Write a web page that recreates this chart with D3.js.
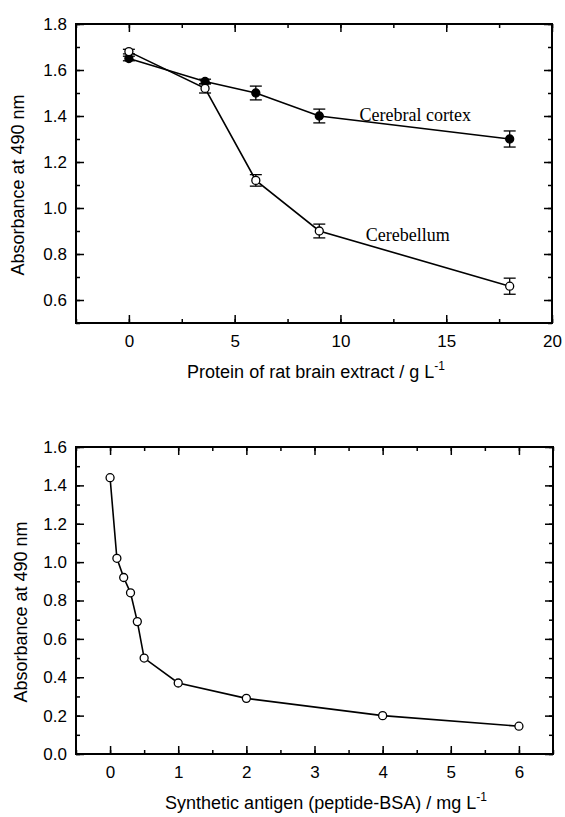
<!doctype html>
<html lang="en">
<head>
  <meta charset="utf-8">
  <script src="https://d3js.org/d3.v7.min.js"></script>
  <title>Absorbance at 490 nm</title>
  <style type="text/css">
    html, body { margin: 0; padding: 0; background: #fff; }
    svg { display: block; }
    .tick text { font-family: "Liberation Sans", Arial, sans-serif; font-size: 17px; fill: #000; }
    .tick line { stroke: #000; stroke-width: 1.5; }
    .title { font-family: "Liberation Sans", Arial, sans-serif; font-size: 18px; fill: #000; }
    .note { font-family: "Liberation Serif", "Times New Roman", serif; font-size: 18px; fill: #000; }
  </style>
</head>
<body>
<script>
  // top panel: rat brain extract
  var brainX = [0, 3.6, 6, 9, 18];
  var cortexY = [1.65, 1.55, 1.50, 1.40, 1.30];
  var cortexErr = [0.01, 0.01, 0.03, 0.03, 0.035];
  var cerebellumY = [1.68, 1.52, 1.12, 0.90, 0.66];
  var cerebellumErr = [0.01, 0.02, 0.025, 0.03, 0.035];
  var topXTicks = [0, 5, 10, 15, 20];
  var topYTicks = [0.6, 0.8, 1.0, 1.2, 1.4, 1.6, 1.8];

  // bottom panel: synthetic antigen
  var antigenX = [0, 0.1, 0.2, 0.3, 0.4, 0.5, 1, 2, 4, 6];
  var antigenY = [1.44, 1.02, 0.92, 0.84, 0.69, 0.50, 0.37, 0.29, 0.20, 0.145];
  var bottomXTicks = [0, 1, 2, 3, 4, 5, 6];
  var bottomYTicks = [0.0, 0.2, 0.4, 0.6, 0.8, 1.0, 1.2, 1.4, 1.6];

  var svg = d3.select("body").append("svg")
    .attr("width", 565)
    .attr("height", 817);

  // draws box, mirrored inward ticks, labels; returns the scales
  function panel(opt) {
    var x = d3.scaleLinear().domain(opt.xDomain).range([opt.left, opt.right]);
    var y = d3.scaleLinear().domain(opt.yDomain).range([opt.bottom, opt.top]);
    var g = svg.append("g");

    function minor(domain, step) {
      var out = [];
      for (var v = Math.ceil(domain[0] / step) * step; v <= domain[1] + 1e-9; v += step) out.push(+v.toFixed(4));
      return out;
    }
    var xMinor = minor(opt.xDomain, opt.xMinorStep);
    var yMinor = minor(opt.yDomain, opt.yMinorStep);
    var noDomain = function(sel) { sel.select(".domain").remove(); };

    // minor ticks on all four sides
    g.append("g").attr("transform", "translate(0," + opt.bottom + ")")
      .call(d3.axisBottom(x).tickValues(xMinor).tickSize(-4).tickFormat("")).call(noDomain);
    g.append("g").attr("transform", "translate(0," + opt.top + ")")
      .call(d3.axisTop(x).tickValues(xMinor).tickSize(-4).tickFormat("")).call(noDomain);
    g.append("g").attr("transform", "translate(" + opt.left + ",0)")
      .call(d3.axisLeft(y).tickValues(yMinor).tickSize(-4).tickFormat("")).call(noDomain);
    g.append("g").attr("transform", "translate(" + opt.right + ",0)")
      .call(d3.axisRight(y).tickValues(yMinor).tickSize(-4).tickFormat("")).call(noDomain);

    // major ticks
    g.append("g").attr("transform", "translate(0," + opt.bottom + ")")
      .call(d3.axisBottom(x).tickValues(opt.xTicks).tickSize(-8).tickPadding(12).tickFormat(d3.format("d")))
      .call(noDomain);
    g.append("g").attr("transform", "translate(0," + opt.top + ")")
      .call(d3.axisTop(x).tickValues(opt.xTicks).tickSize(-8).tickFormat("")).call(noDomain);
    g.append("g").attr("transform", "translate(" + opt.left + ",0)")
      .call(d3.axisLeft(y).tickValues(opt.yTicks).tickSize(-8).tickPadding(9).tickFormat(d3.format(".1f")))
      .call(noDomain);
    g.append("g").attr("transform", "translate(" + opt.right + ",0)")
      .call(d3.axisRight(y).tickValues(opt.yTicks).tickSize(-8).tickFormat("")).call(noDomain);

    g.selectAll(".tick text").attr("fill", "#000");

    // frame
    g.append("rect")
      .attr("x", opt.left).attr("y", opt.top)
      .attr("width", opt.right - opt.left).attr("height", opt.bottom - opt.top)
      .attr("fill", "none").attr("stroke", "#000").attr("stroke-width", 2);

    // x title with superscript
    var t = g.append("text").attr("class", "title")
      .attr("x", opt.xTitleX).attr("y", opt.xTitleY)
      .attr("text-anchor", "middle");
    t.append("tspan").text(opt.xTitle);
    t.append("tspan").attr("dy", -8).style("font-size", "12px").text("-1");

    // y title
    g.append("text").attr("class", "title")
      .attr("transform", "translate(" + opt.yTitleX + "," + opt.yTitleY + ") rotate(-90)")
      .attr("text-anchor", "middle")
      .text("Absorbance at 490 nm");

    return { x: x, y: y, g: g };
  }

  function series(p, xs, ys, errs, filled) {
    var pts = xs.map(function(d, i) { return { x: d, y: ys[i], e: errs ? errs[i] : 0 }; });
    var line = d3.line().x(function(d) { return p.x(d.x); }).y(function(d) { return p.y(d.y); });
    p.g.append("path").datum(pts)
      .attr("d", line).attr("fill", "none").attr("stroke", "#000").attr("stroke-width", 1.6);
    if (errs) {
      var eb = p.g.append("g").selectAll("g").data(pts).enter().append("g");
      eb.append("line")
        .attr("x1", function(d) { return p.x(d.x); }).attr("x2", function(d) { return p.x(d.x); })
        .attr("y1", function(d) { return p.y(d.y - d.e); }).attr("y2", function(d) { return p.y(d.y + d.e); })
        .attr("stroke", "#000").attr("stroke-width", 1.3);
      [1, -1].forEach(function(sgn) {
        eb.append("line")
          .attr("x1", function(d) { return p.x(d.x) - 6; }).attr("x2", function(d) { return p.x(d.x) + 6; })
          .attr("y1", function(d) { return p.y(d.y + sgn * d.e); }).attr("y2", function(d) { return p.y(d.y + sgn * d.e); })
          .attr("stroke", "#000").attr("stroke-width", 1.3);
      });
    }
    p.g.append("g").selectAll("circle").data(pts).enter().append("circle")
      .attr("cx", function(d) { return p.x(d.x); })
      .attr("cy", function(d) { return p.y(d.y); })
      .attr("r", 4)
      .attr("fill", filled ? "#000" : "#fff")
      .attr("stroke", "#000").attr("stroke-width", 1.3);
  }

  var topPanel = panel({
    left: 76, right: 552, top: 24, bottom: 323,
    xDomain: [-2.5, 20], yDomain: [0.5, 1.8],
    xTicks: topXTicks, yTicks: topYTicks, xMinorStep: 2.5, yMinorStep: 0.1,
    xTitle: "Protein of rat brain extract / g  L", xTitleX: 316, xTitleY: 378,
    yTitleX: 24, yTitleY: 185
  });
  series(topPanel, brainX, cortexY, cortexErr, true);
  series(topPanel, brainX, cerebellumY, cerebellumErr, false);

  topPanel.g.append("text").attr("class", "note")
    .attr("x", topPanel.x(10.9)).attr("y", topPanel.y(1.378)).text("Cerebral cortex");
  topPanel.g.append("text").attr("class", "note")
    .attr("x", topPanel.x(11.2)).attr("y", topPanel.y(0.857)).text("Cerebellum");

  var bottomPanel = panel({
    left: 76, right: 553, top: 447, bottom: 754,
    xDomain: [-0.5, 6.5], yDomain: [0, 1.6],
    xTicks: bottomXTicks, yTicks: bottomYTicks, xMinorStep: 0.5, yMinorStep: 0.1,
    xTitle: "Synthetic antigen (peptide-BSA) / mg  L", xTitleX: 326, xTitleY: 809,
    yTitleX: 27, yTitleY: 612
  });
  series(bottomPanel, antigenX, antigenY, null, false);
</script>
</body>
</html>
